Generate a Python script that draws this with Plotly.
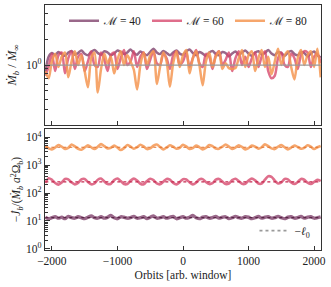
import plotly.graph_objects as go
from plotly.subplots import make_subplots

# ---------------- data ----------------
orbits = list(range(-2100, 2101, 50))  # 85 samples

mach_labels = ["ℳ = 40", "ℳ = 60", "ℳ = 80"]

mdot_m40 = [0.80, 1.25, 1.38, 1.30, 1.42, 1.34, 1.28, 1.40, 1.46, 1.32,
            1.38, 1.48, 1.35, 1.30, 1.42, 1.50, 1.38, 1.32, 1.45, 1.40,
            1.30, 1.36, 1.48, 1.42, 1.34, 1.40, 1.52, 1.38, 1.32, 1.44,
            1.36, 1.30, 1.42, 1.55, 1.40, 1.34, 1.46, 1.38, 1.30, 1.40,
            1.48, 1.36, 1.32, 1.44, 1.52, 1.38, 1.30, 1.42, 1.36, 1.28,
            1.40, 1.46, 1.34, 1.30, 1.42, 1.38, 1.26, 1.36, 1.44, 1.32,
            1.40, 1.48, 1.35, 1.28, 1.40, 1.45, 1.33, 1.38, 1.50, 1.36,
            1.30, 1.42, 1.38, 1.28, 1.40, 1.46, 1.34, 1.30, 1.42, 1.38,
            1.26, 1.36, 1.44, 1.30, 1.22]

mdot_m60 = [0.75, 0.95, 1.35, 0.85, 1.30, 1.40, 0.80, 1.20, 1.45, 0.90,
            1.25, 1.35, 0.85, 1.10, 1.45, 1.00, 0.95, 1.40, 1.15, 0.85,
            1.30, 1.40, 0.90, 1.20, 1.50, 1.00, 1.10, 1.45, 0.95, 1.25,
            1.40, 0.90, 1.15, 1.45, 1.05, 1.00, 1.35, 1.20, 0.90, 1.30,
            1.45, 1.00, 1.10, 1.40, 0.95, 1.20, 1.50, 1.05, 0.95, 1.35,
            1.25, 0.90, 1.30, 1.45, 1.00, 1.15, 1.40, 0.85, 1.20, 1.45,
            1.00, 1.25, 0.95, 1.20, 1.40, 0.95, 1.25, 1.45, 0.85, 0.70,
            0.75, 1.20, 1.40, 1.00, 0.95, 1.35, 1.20, 0.90, 1.30, 1.45,
            1.40, 0.95, 1.25, 1.35, 1.05]

mdot_m80 = [0.85, 0.70, 1.10, 1.35, 0.95, 1.25, 1.40, 0.72, 1.10, 1.45,
            1.00, 1.30, 0.85, 0.55, 1.20, 1.40, 0.48, 0.90, 1.35, 1.05,
            1.25, 0.80, 1.15, 1.45, 1.00, 1.30, 1.10, 0.88, 0.52, 1.00,
            1.40, 1.00, 1.30, 1.45, 0.60, 0.95, 1.40, 1.10, 0.56, 1.05,
            1.45, 0.95, 1.30, 1.50, 0.80, 1.20, 1.45, 1.00, 0.58, 1.10,
            1.40, 0.95, 1.25, 1.45, 0.90, 1.05, 0.92, 0.90, 0.92, 1.20,
            1.50, 0.95, 1.30, 1.45, 0.85, 1.20, 1.50, 0.95, 1.25, 0.78,
            1.10, 1.55, 1.00, 1.30, 1.45, 0.95, 0.68, 1.20, 1.50, 1.00,
            1.30, 1.45, 0.95, 1.55, 0.72]

jdot_m40 = [13.5, 12.0, 13.0, 14.0, 12.5, 13.5, 12.0, 14.5, 13.0, 12.5,
            14.0, 13.0, 12.0, 13.5, 15.0, 13.0, 12.5, 14.0, 12.5, 13.5,
            15.5, 13.0, 12.0, 14.0, 13.5, 12.5, 13.0, 14.5, 12.5, 13.0,
            14.0, 12.0, 13.5, 15.0, 12.5, 13.0, 14.0, 12.5, 13.5, 14.5,
            12.0, 13.0, 14.0, 12.5, 13.5, 15.5, 13.0, 12.0, 13.5, 14.0,
            12.5, 13.0, 14.5, 12.5, 13.5, 14.0, 12.0, 13.0, 14.5, 13.0,
            12.5, 14.0, 13.5, 12.0, 13.0, 14.5, 12.5, 13.5, 14.0, 12.5,
            13.0, 14.5, 13.0, 12.0, 13.5, 14.0, 12.5, 13.0, 14.5, 12.5,
            13.5, 14.0, 12.5, 13.0, 14.0]

jdot_m60 = [230, 340, 300, 230, 200, 240, 320, 310, 240, 205,
            230, 310, 320, 250, 205, 220, 300, 330, 260, 210,
            215, 290, 330, 270, 210, 210, 280, 330, 280, 215,
            205, 270, 325, 290, 220, 205, 255, 320, 300, 230,
            205, 245, 315, 305, 240, 205, 235, 310, 315, 250,
            210, 225, 300, 320, 260, 210, 220, 290, 325, 270,
            215, 215, 280, 330, 285, 220, 220, 300, 400, 380,
            280, 220, 240, 320, 310, 240, 210, 250, 320, 300,
            235, 210, 250, 300, 270]

jdot_m80 = [5000, 4000, 3700, 4300, 5300, 4600, 3800, 4200, 5500, 4700,
            3900, 3600, 4300, 5200, 4400, 3800, 4600, 5700, 4800, 4000,
            4200, 5100, 4300, 3500, 4100, 5300, 4600, 3900, 4400, 5400,
            4700, 3800, 4000, 5000, 5500, 4500, 3700, 4300, 5200, 4600,
            3900, 4200, 5400, 4700, 3800, 4100, 5100, 4400, 3700, 4200,
            5300, 4800, 4000, 3900, 4600, 5500, 4700, 3800, 4300, 5200,
            4500, 3700, 4100, 5100, 4600, 3900, 4400, 5600, 4800, 4000,
            3800, 4600, 5300, 4400, 3700, 4300, 5100, 4500, 3900, 4200,
            5200, 4600, 3800, 4400, 4900]

ell0 = [13, 250, 4400]
mdot_ref = 1.0

x_ticks = [-2000, -1000, 0, 1000, 2000]
top_minor = [0.2, 0.3, 0.4, 0.5, 0.6, 0.7, 0.8, 0.9, 2, 3, 4, 5]
bot_major = [1, 10, 100, 1000, 10000]
bot_minor = [m * 10 ** d for d in range(4) for m in range(2, 10)] + [20000]

# ---------------- style ----------------
colors = ["rgba(126,61,105,0.78)", "rgba(214,69,106,0.78)", "rgba(245,150,82,0.85)"]
dark = ["#5a2646", "#c3294e", "#e0722e"]
FONT = "Liberation Serif, DejaVu Serif, serif"
AX = "#333333"

fig = make_subplots(rows=2, cols=1, shared_xaxes=False, vertical_spacing=0.016)

top_series = [mdot_m40, mdot_m60, mdot_m80]
bot_series = [jdot_m40, jdot_m60, jdot_m80]

for i in range(3):
    fig.add_trace(go.Scatter(x=orbits, y=top_series[i], mode="lines", name=mach_labels[i],
                             line=dict(color=colors[i], width=2.5, shape="spline", smoothing=0.8),
                             legend="legend"), row=1, col=1)

fig.add_trace(go.Scatter(x=orbits, y=[mdot_ref] * len(orbits), mode="lines", showlegend=False,
                         line=dict(color="#9a9a9a", width=1.2)), row=1, col=1)

for i in range(3):
    fig.add_trace(go.Scatter(x=orbits, y=bot_series[i], mode="lines", showlegend=False,
                             line=dict(color=colors[i], width=3.4 if i == 0 else 2.6,
                                       shape="spline", smoothing=0.8)), row=2, col=1)
for i in range(3):
    fig.add_trace(go.Scatter(x=orbits, y=[ell0[i]] * len(orbits), mode="lines", showlegend=False,
                             line=dict(color=dark[i], width=1.2, dash="dot")), row=2, col=1)

fig.add_trace(go.Scatter(x=[None], y=[None], mode="lines", name="−<i>ℓ</i><sub>0</sub>",
                         line=dict(color="#9a9a9a", width=1.6, dash="dot"), legend="legend2"),
              row=2, col=1)

axis_common = dict(showline=True, mirror=True, linecolor=AX, linewidth=1.4, automargin=False,
                   ticks="inside", tickcolor=AX, tickwidth=1, showgrid=False, zeroline=False,
                   tickfont=dict(family=FONT, size=11.5, color="#222"))

fig.update_xaxes(range=[-2105, 2105], tickvals=x_ticks, ticklen=4, **axis_common)
fig.update_xaxes(showticklabels=False, row=1, col=1)
fig.update_xaxes(title=dict(text="Orbits [arb. window]", font=dict(family=FONT, size=11.5, color="#222"),
                            standoff=4), row=2, col=1)

fig.update_yaxes(type="log", range=[-0.699, 0.699], tickvals=[1], ticktext=["10<sup>0</sup>"],
                 ticklen=5, minor=dict(tickvals=top_minor, ticks="inside", ticklen=2.5, tickcolor=AX),
                 title=dict(text="<i>Ṁ<sub>b</sub></i> / <i>Ṁ</i><sub>∞</sub>",
                            font=dict(family=FONT, size=12.5, color="#222"), standoff=6),
                 row=1, col=1, **axis_common)
fig.update_yaxes(type="log", range=[-0.046, 4.3], tickvals=bot_major,
                 ticktext=["10<sup>%d</sup>" % k for k in range(5)],
                 ticklen=5, minor=dict(tickvals=bot_minor, ticks="inside", ticklen=2.5, tickcolor=AX),
                 title=dict(text="−<i>J̇<sub>b</sub></i>/(<i>Ṁ<sub>b</sub> a</i><sup>2</sup>Ω<sub>b</sub>)",
                            font=dict(family=FONT, size=11.5, color="#222"), standoff=2),
                 row=2, col=1, **axis_common)

fig.update_layout(
    width=331, height=287,
    margin=dict(l=45, r=10, t=5, b=37, autoexpand=False),
    paper_bgcolor="white", plot_bgcolor="white",
    font=dict(family=FONT, size=11, color="#222"),
    legend=dict(orientation="h", x=0.52, y=0.995, xanchor="center", yanchor="top",
                bgcolor="rgba(0,0,0,0)", font=dict(family=FONT, size=11.5), itemwidth=30,
                tracegroupgap=0),
    legend2=dict(x=0.98, y=0.02, xanchor="right", yanchor="bottom",
                 bgcolor="rgba(0,0,0,0)", font=dict(family=FONT, size=11.5), itemwidth=30),
)
fig.layout.yaxis.domain = [0.51, 1.0]
fig.layout.yaxis2.domain = [0.0, 0.494]

fig.write_html("out.html", config={"displayModeBar": False},
               post_script="document.body.style.margin='0';document.body.style.overflow='hidden';")
